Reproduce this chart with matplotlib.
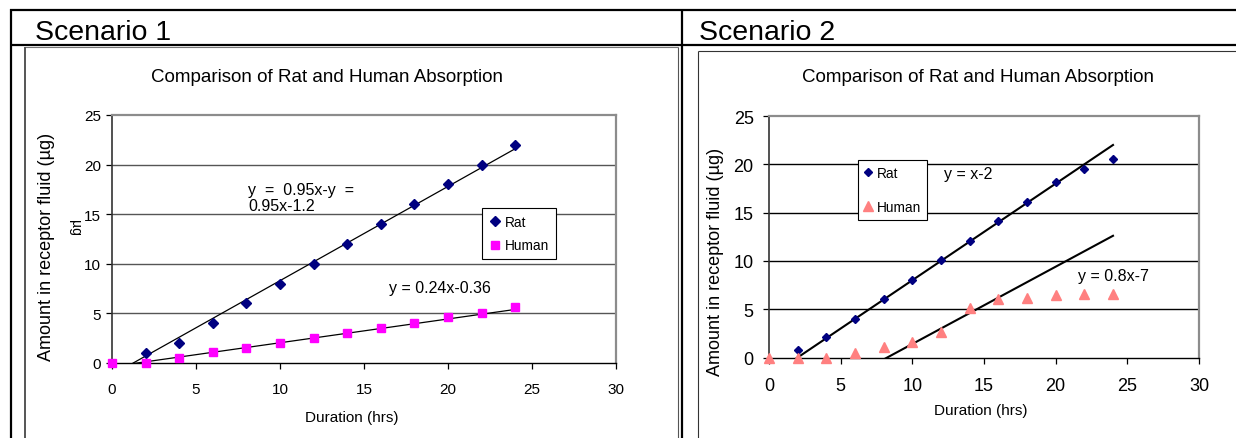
import numpy as np
import matplotlib
matplotlib.use('Agg')
import matplotlib.pyplot as plt
from matplotlib.lines import Line2D

plt.rcParams['font.family'] = ['Liberation Sans', 'DejaVu Sans']

W = 1236
H = 439

# ---- data ----
hrs = [0, 2, 4, 6, 8, 10, 12, 14, 16, 18, 20, 22, 24]
rat_hrs = [2, 4, 6, 8, 10, 12, 14, 16, 18, 20, 22, 24]

rat1   = [1.0, 2.0, 4.0, 6.0, 8.0, 10.0, 12.0, 14.0, 16.0, 18.0, 20.0, 22.0]
human1 = [0.0, 0.0, 0.5, 1.1, 1.5, 2.0, 2.5, 3.0, 3.5, 4.0, 4.6, 5.0, 5.6]
rat2   = [0.8, 2.1, 4.0, 6.1, 8.0, 10.1, 12.1, 14.1, 16.1, 18.2, 19.5, 20.5]
human2 = [0.0, 0.0, 0.0, 0.5, 1.1, 1.6, 2.6, 5.1, 6.1, 6.2, 6.5, 6.6, 6.6]

# trendline (slope, intercept) as drawn
fit1_rat   = (0.95, -1.2)
fit1_human = (0.24, -0.36)
fit2_rat   = (1.0, -2.0)
fit2_human = (0.8, -6.6)

eq1_rat   = 'y  =  0.95x-y  =\n0.95x-1.2'
eq1_human = 'y = 0.24x-0.36'
eq2_rat   = 'y = x-2'
eq2_human = 'y = 0.8x-7'

title = 'Comparison of Rat and Human Absorption'
ylab = 'Amount in receptor fluid (\u00b5g)'
xlab = 'Duration (hrs)'

fig = plt.figure(figsize=(W / 100, H / 100), dpi=100)


def fx(px):
  return px / W


def fy(py):
  return 1 - py / H


def rule(x0, y0, x1, y1, lw=1.5, color='black'):
  fig.add_artist(Line2D([fx(x0), fx(x1)], [fy(y0), fy(y1)], lw=lw,
                        color=color, transform=fig.transFigure,
                        solid_capstyle='butt'))


def make_axes(l, r, t, b):
  return fig.add_axes([fx(l), fy(b), fx(r) - fx(l), fy(t) - fy(b)])


def style(ax, fs, gridc, xpad, ypad):
  ax.set_xlim(0, 30)
  ax.set_ylim(0, 25)
  ax.set_xticks(range(0, 31, 5))
  ax.set_yticks(range(0, 26, 5))
  ax.tick_params(axis='x', direction='out', length=4, width=0.9,
                 labelsize=fs, pad=xpad)
  ax.tick_params(axis='y', direction='out', length=4, width=0.9,
                 labelsize=fs, pad=ypad)
  for g in [5, 10, 15, 20]:
    ax.axhline(g, color=gridc, lw=1.0, zorder=0)
  ax.spines['left'].set_color('#333333')
  ax.spines['bottom'].set_color('#000000')
  ax.spines['left'].set_linewidth(1.2)
  ax.spines['bottom'].set_linewidth(1.0)
  ax.spines['top'].set_color('#8c8c8c')
  ax.spines['right'].set_color('#8c8c8c')
  ax.spines['top'].set_linewidth(1.6)
  ax.spines['right'].set_linewidth(1.6)


def trend(ax, fit, lw):
  xx = np.array([0.0, 24.0])
  ax.plot(xx, fit[0] * xx + fit[1], color='black', lw=lw, zorder=2)


# ---- table frame ----
rule(10, 11, W, 11, lw=1.6)
rule(10, 45.5, W, 45.5, lw=1.6)
rule(11, 10, 11, H, lw=1.6)
rule(682, 10, 682, H, lw=1.6)
# chart frames
rule(25, 48, 678, 48, lw=0.8, color='#777777')
rule(25, 48, 25, H, lw=1.4, color='#555555')
rule(678, 48, 678, H, lw=0.8, color='#555555')
rule(698, 52, W, 52, lw=0.8, color='#333333')
rule(698, 52, 698, H, lw=0.8, color='#333333')

fig.text(fx(35), fy(39.5), 'Scenario 1', fontsize=20.5, va='baseline')
fig.text(fx(699), fy(39.5), 'Scenario 2', fontsize=20.5, va='baseline')

# ---- scenario 1 ----
ax1 = make_axes(112, 616, 116, 364)
style(ax1, 11, '#555555', 10, 4)
trend(ax1, fit1_rat, 0.9)
trend(ax1, fit1_human, 0.9)
h1, = ax1.plot(rat_hrs, rat1, 'D', color='#000080', ms=5, ls='none',
               clip_on=False, zorder=3)
h2, = ax1.plot(hrs, human1, 's', color='#ff00ff', ms=5.5, ls='none',
               clip_on=False, zorder=3)
leg = ax1.legend([h1, h2], ['Rat', 'Human'], loc='upper left',
                 bbox_to_anchor=(fx(482), fy(209)),
                 bbox_transform=fig.transFigure, borderaxespad=0,
                 fontsize=9.8, frameon=True, fancybox=False,
                 edgecolor='black', framealpha=1, borderpad=0.5,
                 labelspacing=0.7, handlelength=0.9, handletextpad=0.3)
leg.get_frame().set_linewidth(0.8)
fig.text(fx(248), fy(183), eq1_rat, fontsize=11.5, va='top',
         linespacing=1.05)
fig.text(fx(389), fy(289), eq1_human, fontsize=11.5, va='center')
fig.text(fx(327), fy(82), title, fontsize=13.5, ha='center', va='baseline')
fig.text(fx(47), fy(247), ylab, fontsize=13, rotation=90,
         ha='center', va='center')
fig.text(fx(75), fy(228), '\u00b5g', fontsize=10, rotation=270,
         ha='center', va='center')
fig.text(fx(352), fy(418), xlab, fontsize=11, ha='center', va='center')

# ---- scenario 2 ----
ax2 = make_axes(769, 1199, 117, 358.5)
style(ax2, 13, '#000000', 10, 7)
trend(ax2, fit2_rat, 1.5)
trend(ax2, fit2_human, 1.5)
h3, = ax2.plot(rat_hrs, rat2, 'D', color='#000080', ms=4.5, ls='none',
               clip_on=False, zorder=3)
h4, = ax2.plot(hrs, human2, '^', color='#ff8080', ms=6.5, ls='none',
               clip_on=False, zorder=3)
leg2 = ax2.legend([h3, h4], ['Rat', 'Human'], loc='upper left',
                  bbox_to_anchor=(fx(858), fy(160.7)),
                  bbox_transform=fig.transFigure, borderaxespad=0,
                  fontsize=9.8, frameon=True, fancybox=False,
                  edgecolor='black', framealpha=1, borderpad=0.45,
                  labelspacing=1.5, handlelength=0.6, handletextpad=0.3)
leg2.get_frame().set_linewidth(0.8)
fig.text(fx(944), fy(175), eq2_rat, fontsize=11.5, va='center')
fig.text(fx(1078), fy(277), eq2_human, fontsize=11.5, va='center')
fig.text(fx(978), fy(82), title, fontsize=13.5, ha='center', va='baseline')
fig.text(fx(715), fy(262), ylab, fontsize=13, rotation=90,
         ha='center', va='center')
fig.text(fx(981), fy(411), xlab, fontsize=11, ha='center', va='center')

fig.savefig('out.png', dpi=100)
